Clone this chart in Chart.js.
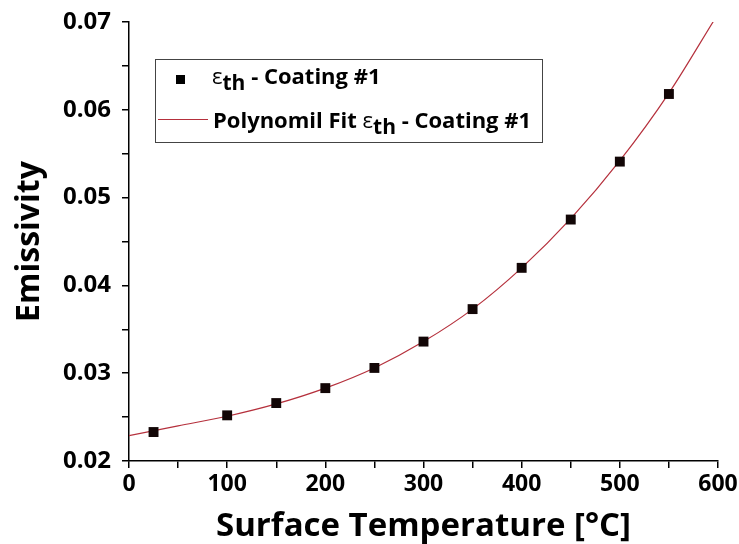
<!DOCTYPE html>
<html>
<head>
<meta charset="utf-8">
<script src="https://cdn.jsdelivr.net/npm/chart.js@4"></script>
<style>
  html, body { margin: 0; padding: 0; background: #fff; }
  #wrap { width: 739px; height: 544px; }
</style>
</head>
<body>
<div id="wrap"><canvas id="myChart" width="739" height="544"></canvas></div>
<script>
// Datos medidos (emisividad vs temperatura)
const temps = [25, 100, 150, 200, 250, 300, 350, 400, 450, 500, 550];
const emissivity = [0.0233, 0.0252, 0.0266, 0.0283, 0.0306, 0.0336, 0.0373, 0.0420, 0.0475, 0.0541, 0.0618];

// Curva de ajuste
const fitTemps = [0, 50, 100, 150, 200, 250, 300, 350, 400, 450, 500, 550, 596];
const fitValues = [0.0229, 0.0240, 0.0251, 0.0265, 0.0283, 0.0306, 0.0336, 0.0373, 0.0420, 0.0476, 0.0542, 0.0619, 0.0702];

const xTicks = [0, 100, 200, 300, 400, 500, 600];
const yTicks = [0.02, 0.03, 0.04, 0.05, 0.06, 0.07];

const FONT = "'Open Sans', 'DejaVu Sans', sans-serif";

// Leyenda dibujada a mano (subíndice "th")
const legendPlugin = {
    id: 'customLegend',
    afterDraw(chart) {
        const ctx = chart.ctx;
        const x0 = 155, y0 = 59, w = 387, h = 83;
        ctx.save();
        ctx.fillStyle = '#fff';
        ctx.fillRect(x0, y0, w, h);
        ctx.strokeStyle = '#444';
        ctx.lineWidth = 1;
        ctx.strokeRect(x0 + 0.5, y0 + 0.5, w, h);

        // fila 1: marcador
        ctx.fillStyle = '#000';
        ctx.fillRect(176, 75, 9, 9);
        // fila 2: línea
        ctx.strokeStyle = '#b5303c';
        ctx.beginPath();
        ctx.moveTo(158, 119.5);
        ctx.lineTo(208, 119.5);
        ctx.stroke();

        ctx.fillStyle = '#000';
        ctx.textBaseline = 'alphabetic';
        const drawEps = (x, y) => {
            ctx.font = "22px " + FONT;
            ctx.fillText('\u03b5', x, y);
            x += ctx.measureText('\u03b5').width;
            ctx.font = "bold 21px " + FONT;
            ctx.fillText('th', x, y + 6);
            return x + ctx.measureText('th').width;
        };
        let x = drawEps(212, 84);
        ctx.font = "bold 22px " + FONT;
        ctx.fillText(' - Coating #1', x, 84);

        ctx.font = "bold 22px " + FONT;
        ctx.fillText('Polynomil Fit ', 213, 128);
        x = 213 + ctx.measureText('Polynomil Fit ').width;
        x = drawEps(x, 128);
        ctx.font = "bold 22px " + FONT;
        ctx.fillText(' - Coating #1', x, 128);
        ctx.restore();
    }
};

function createChart() {
    const ctx = document.getElementById('myChart').getContext('2d');
    new Chart(ctx, {
        type: 'scatter',
        data: {
            datasets: [{
                label: 'Polynomil Fit',
                data: fitTemps.map((t, i) => ({ x: t, y: fitValues[i] })),
                showLine: true,
                borderColor: '#b5303c',
                borderWidth: 1.2,
                pointRadius: 0,
                cubicInterpolationMode: 'monotone',
                order: 2
            }, {
                label: 'eth - Coating #1',
                data: temps.map((t, i) => ({ x: t, y: emissivity[i] })),
                pointStyle: 'rect',
                pointRadius: 7,
                backgroundColor: '#120606',
                borderColor: '#120606',
                borderWidth: 0,
                order: 1
            }]
        },
        options: {
            responsive: false,
            animation: false,
            layout: { padding: { top: 22, right: 21, left: 0, bottom: 0 } },
            plugins: { legend: { display: false }, tooltip: { enabled: false } },
            scales: {
                x: {
                    type: 'linear',
                    min: 0, max: 600,
                    afterFit: s => { s.height = 83; s.paddingLeft = 0; s.paddingRight = 0; },
                    afterBuildTicks: s => { s.ticks = [0, 50, 100, 150, 200, 250, 300, 350, 400, 450, 500, 550, 600].map(v => ({ value: v })); },
                    border: { color: '#000', width: 1.5 },
                    grid: { drawOnChartArea: false, drawTicks: true, tickLength: 7, color: '#000', lineWidth: 1.5 },
                    ticks: {
                        color: '#000',
                        padding: 3,
                        maxRotation: 0,
                        autoSkip: false,
                        font: { family: FONT, size: 23, weight: 'bold' },
                        callback: v => xTicks.includes(v) ? String(v) : ''
                    },
                    title: {
                        display: true,
                        text: 'Surface Temperature [°C]',
                        color: '#000',
                        font: { family: FONT, size: 33, weight: 'bold', lineHeight: 1 },
                        padding: { top: 0, bottom: 1 }
                    }
                },
                y: {
                    type: 'linear',
                    min: 0.02, max: 0.07,
                    afterFit: s => { s.width = 129; s.paddingTop = 0; s.paddingBottom = 0; },
                    afterBuildTicks: s => {
                        const t = [];
                        for (let i = 0; i <= 10; i++) t.push({ value: +(0.02 + i * 0.005).toFixed(3) });
                        s.ticks = t;
                    },
                    border: { color: '#000', width: 1.5 },
                    grid: { drawOnChartArea: false, drawTicks: true, tickLength: 7, color: '#000', lineWidth: 1.5 },
                    ticks: {
                        color: '#000',
                        padding: 11,
                        autoSkip: false,
                        font: { family: FONT, size: 24, weight: 'bold' },
                        callback: v => yTicks.some(t => Math.abs(t - v) < 1e-6) ? v.toFixed(2) : ''
                    },
                    title: {
                        display: true,
                        text: 'Emissivity',
                        color: '#000',
                        font: { family: FONT, size: 32, weight: 'bold', lineHeight: 1 },
                        padding: { top: 14, bottom: 0 }
                    }
                }
            }
        },
        plugins: [legendPlugin]
    });
}

window.onload = createChart;
</script>
</body>
</html>
